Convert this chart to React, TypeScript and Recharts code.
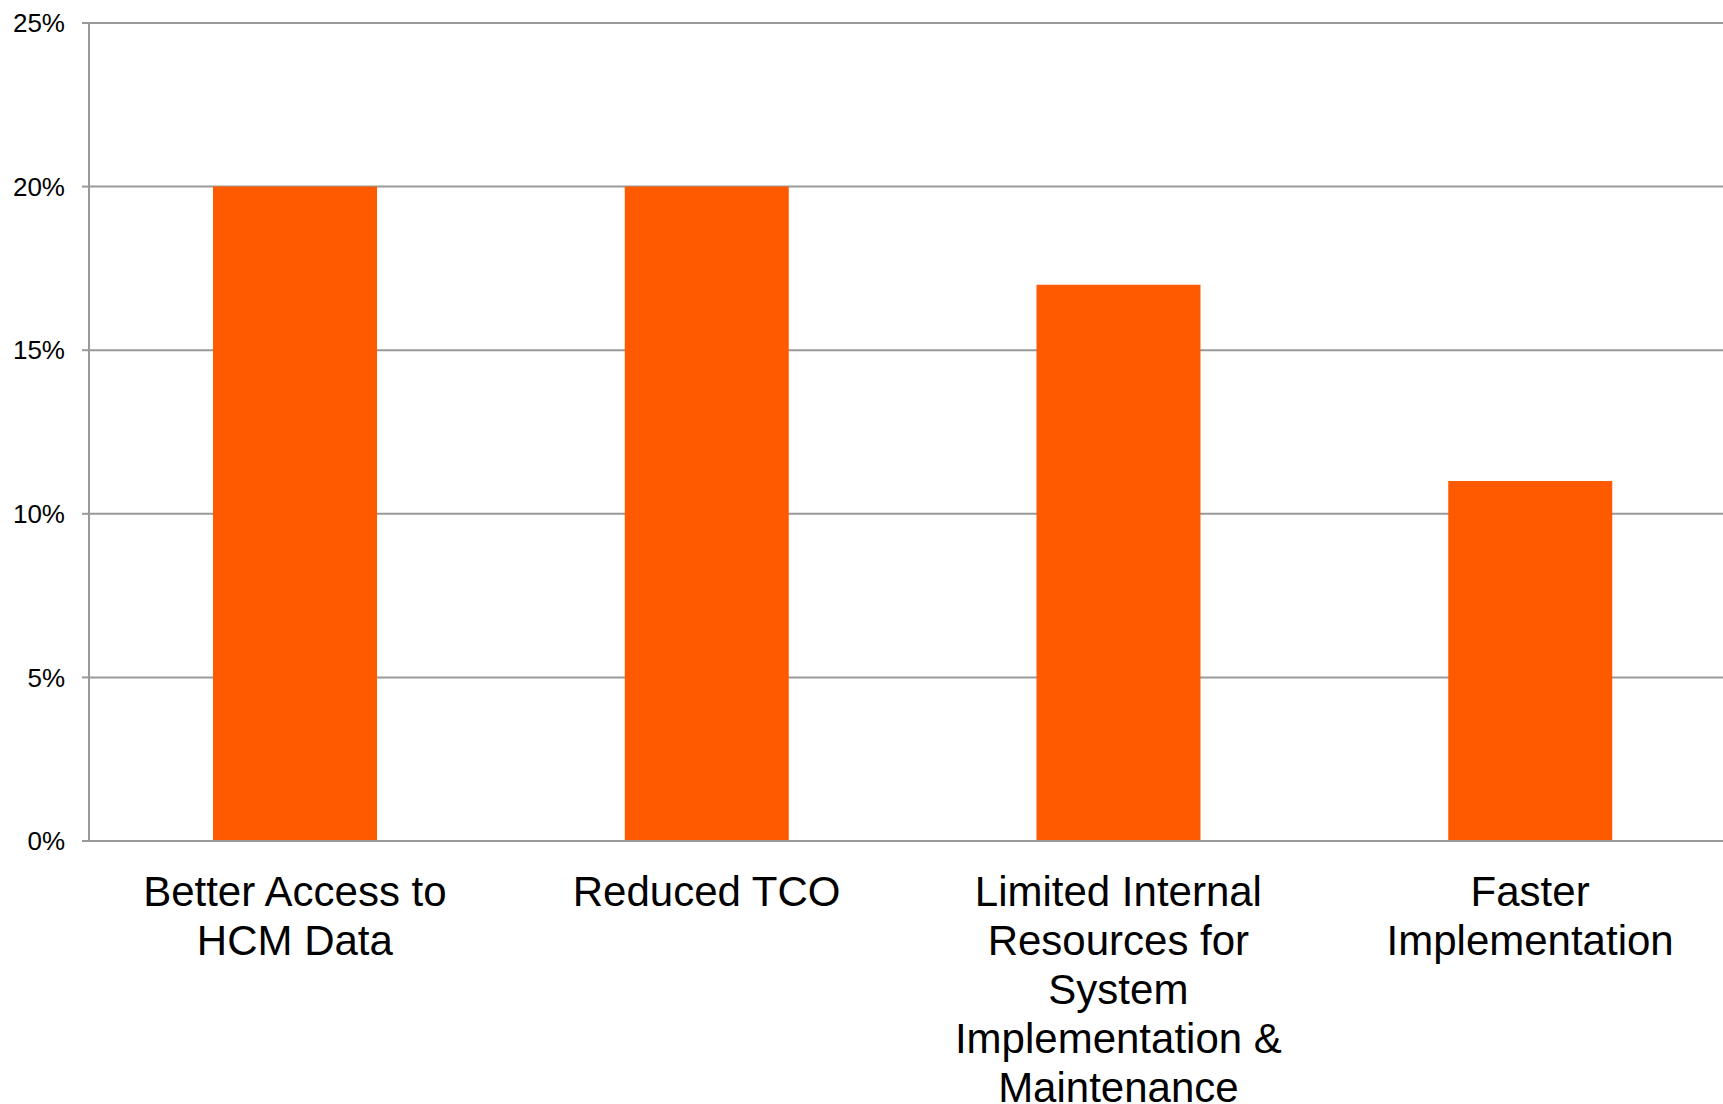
import React from "react";
import { BarChart, Bar, XAxis, YAxis, CartesianGrid } from "recharts";

// Survey categories (line breaks follow the original label wrapping)
const categories = [
  "Better Access to\nHCM Data",
  "Reduced TCO",
  "Limited Internal\nResources for\nSystem\nImplementation &\nMaintenance",
  "Faster\nImplementation",
];
const shares = [20, 20, 17, 11];
const yTicks = [0, 5, 10, 15, 20, 25];
const edgeTicks = [0, 1, 2, 3, 4];

const data = categories.map((name, i) => ({ name, value: shares[i] }));

const FONT = "'Liberation Sans', Arial, Helvetica, sans-serif";
const GRID = "#999999";
const ORANGE = "#FF5A00";

const CategoryTick = (props: any) => {
  const { x, y, payload } = props;
  const lines = String(payload.value).split("\n");
  return (
    <g transform={`translate(${x},${y})`}>
      <text textAnchor='middle' fontSize={42} fontFamily={FONT} fill='#000'>
        {lines.map((line, i) => (
          <tspan key={i} x={0} dy={i === 0 ? 53 : 49}>
            {line}
          </tspan>
        ))}
      </text>
    </g>
  );
};

export default function App() {
  return (
    <div
      style={{
        position: "absolute",
        left: 0,
        top: 0,
        width: 1723,
        height: 1104,
        overflow: "hidden",
        background: "#fff",
      }}
    >
      <BarChart
        width={1736}
        height={1104}
        data={data}
        margin={{ top: 23, right: 0, left: 0, bottom: 0 }}
      >
        <CartesianGrid
          vertical={false}
          stroke={GRID}
          strokeWidth={2}
          xAxisId='b_cats'
        />
        <XAxis
          xAxisId='a_edges'
          type='number'
          domain={[0, 4]}
          ticks={edgeTicks}
          height={12}
          tick={false}
          tickSize={12}
          tickLine={{ stroke: GRID, strokeWidth: 2 }}
          axisLine={{ stroke: GRID, strokeWidth: 2 }}
        />
        <XAxis
          dataKey='name'
          xAxisId='b_cats'
          height={251}
          interval={0}
          tickLine={false}
          axisLine={false}
          tickSize={0}
          tickMargin={0}
          tick={<CategoryTick />}
        />
        <YAxis
          width={89}
          domain={[0, 25]}
          ticks={yTicks}
          tickFormatter={(v) => `${v}%`}
          tickSize={7}
          tickMargin={17}
          tick={{ fill: "#000", fontSize: 26, fontFamily: FONT }}
          tickLine={{ stroke: GRID, strokeWidth: 2 }}
          axisLine={{ stroke: GRID, strokeWidth: 2 }}
        />
        <Bar
          dataKey='value'
          xAxisId='b_cats'
          fill={ORANGE}
          barSize={164}
          isAnimationActive={false}
        />
      </BarChart>
    </div>
  );
}
